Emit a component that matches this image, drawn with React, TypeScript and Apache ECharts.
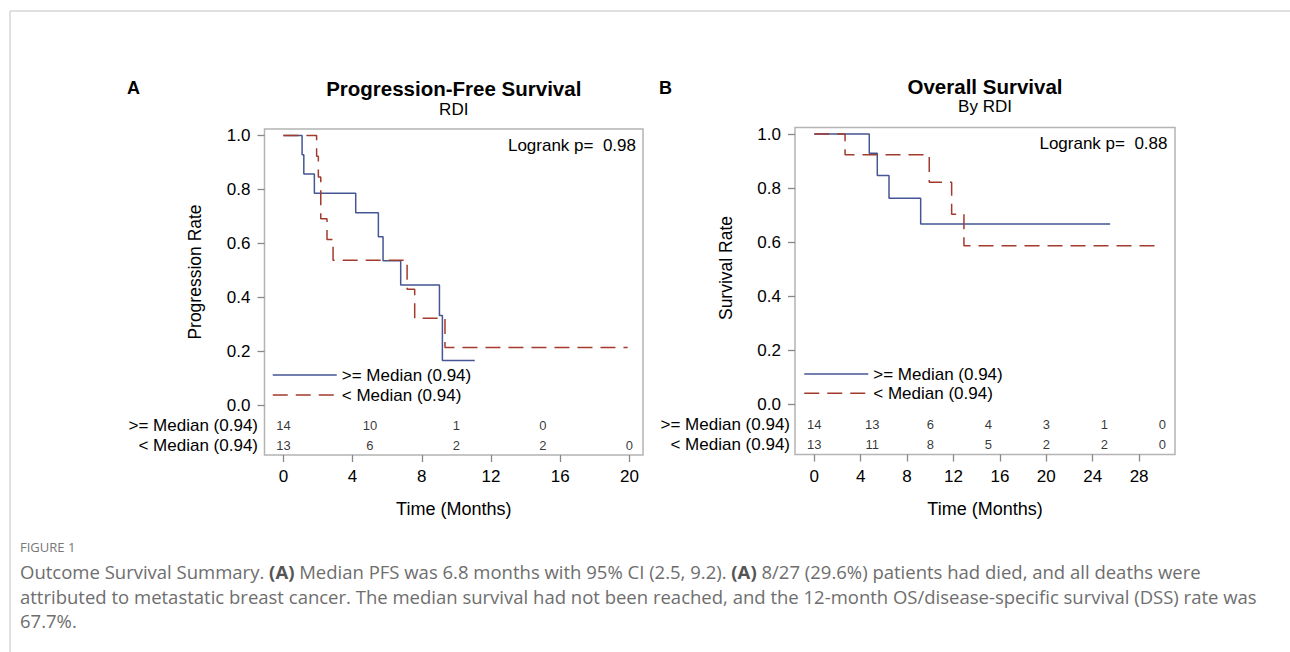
import React, { useEffect, useRef } from "react";
import * as echarts from "echarts";

// ---------------- DATA ----------------
const groupNames = [">= Median (0.94)", "< Median (0.94)"];

// Panel A: Progression-free survival (Kaplan-Meier steps)
const pfsHighTime = [0, 1.08, 1.18, 1.79, 4.18, 5.49, 5.76, 6.78, 9.02, 9.19, 11.06];
const pfsHighRate = [1.0, 0.929, 0.857, 0.786, 0.714, 0.625, 0.536, 0.446, 0.333, 0.167, 0.167];
const pfsLowTime = [0, 1.92, 2.02, 2.16, 2.52, 2.87, 7.15, 7.59, 9.34, 19.9];
const pfsLowRate = [1.0, 0.923, 0.846, 0.692, 0.615, 0.538, 0.431, 0.323, 0.215, 0.215];

// Panel B: Overall survival
const osHighTime = [0, 4.74, 5.43, 6.44, 9.17, 25.5];
const osHighRate = [1.0, 0.929, 0.846, 0.762, 0.667, 0.667];
const osLowTime = [0, 2.65, 9.91, 11.84, 12.9, 29.6];
const osLowRate = [1.0, 0.923, 0.821, 0.703, 0.586, 0.586];

// Numbers at risk
const pfsRiskTimes = [0, 5, 10, 15, 20];
const pfsRiskHigh = [14, 10, 1, 0, null];
const pfsRiskLow = [13, 6, 2, 2, 0];
const osRiskTimes = [0, 5, 10, 15, 20, 25, 30];
const osRiskHigh = [14, 13, 6, 4, 3, 1, 0];
const osRiskLow = [13, 11, 8, 5, 2, 2, 0];

// Ticks
const yTicks = [0, 0.2, 0.4, 0.6, 0.8, 1.0];
const pfsXTicks = [0, 4, 8, 12, 16, 20];
const osXTicks = [0, 4, 8, 12, 16, 20, 24, 28];

// Texts
const pfsTitle = "Progression-Free Survival";
const pfsSubtitle = "RDI";
const osTitle = "Overall Survival";
const osSubtitle = "By RDI";
const pfsLogrank = "Logrank p=  0.98";
const osLogrank = "Logrank p=  0.88";
const captionHead = "FIGURE 1";
const captionLines = [
  "Outcome Survival Summary. {b|(A)} Median PFS was 6.8 months with 95% CI (2.5, 9.2). {b|(A)} 8/27 (29.6%) patients had died, and all deaths were",
  "attributed to metastatic breast cancer. The median survival had not been reached, and the 12-month OS/disease-specific survival (DSS) rate was",
  "67.7%.",
];

// ---------------- LAYOUT / STYLE ----------------
const W = 1290;
const H = 652;
const FONT = "'Liberation Sans', Arial, Helvetica, sans-serif";
const CAP_FONT = "'Open Sans', Lato, sans-serif";
const CAP_SIZE = 18.5;
const BLUE = "#445694";
const RED = "#A23A2E";
const FRAME = "#b4b4b4";
const TICK = "#888888";

const layouts = [
  { l: 264.5, t: 129, r: 643, b: 455, x0: 283.4, xs: 17.3, y0: 405.5, ys: 270, rows: [425, 445] },
  { l: 795, t: 127.5, r: 1175, b: 454.5, x0: 814.3, xs: 11.6, y0: 404, ys: 270, rows: [424, 444] },
];

function axisRange(L: any) {
  return {
    xMin: (L.l - L.x0) / L.xs,
    xMax: (L.r - L.x0) / L.xs,
    yMin: (L.y0 - L.b) / L.ys,
    yMax: (L.y0 - L.t) / L.ys,
  };
}

function kmSeries(name: string, times: number[], rates: number[], idx: number, color: string, dashed: boolean) {
  return {
    type: "line",
    name,
    xAxisIndex: idx,
    yAxisIndex: idx,
    step: "end",
    symbol: "none",
    showSymbol: false,
    silent: true,
    z: dashed ? 3 : 2,
    data: times.map((t, i) => [t, rates[i]]),
    itemStyle: { color },
    lineStyle: { color, width: 1.5, type: dashed ? [15, 8] : "solid" },
    emphasis: { disabled: true },
  };
}

function riskSeries(times: number[], counts: (number | null)[], idx: number, rowVal: number) {
  const data: any[] = [];
  times.forEach((t, j) => {
    if (counts[j] != null) data.push([t, rowVal, counts[j]]);
  });
  return {
    type: "scatter",
    xAxisIndex: idx,
    yAxisIndex: idx,
    symbol: "circle",
    symbolSize: 1,
    silent: true,
    itemStyle: { color: "rgba(0,0,0,0)" },
    label: {
      show: true,
      position: "inside",
      formatter: (p: any) => String(p.value[2]),
      fontSize: 13,
      color: "#000",
      fontFamily: FONT,
    },
    data,
  };
}

function buildOption() {
  const grids: any[] = [];
  const xAxes: any[] = [];
  const yAxes: any[] = [];
  const xTickSets = [pfsXTicks, osXTicks];
  layouts.forEach((L, i) => {
    const R = axisRange(L);
    grids.push({
      left: L.l,
      top: L.t,
      width: L.r - L.l,
      height: L.b - L.t,
      show: true,
      borderColor: FRAME,
      borderWidth: 1.5,
      backgroundColor: "transparent",
      containLabel: false,
      outerBoundsMode: "none",
    });
    xAxes.push({
      type: "value",
      gridIndex: i,
      position: "bottom",
      min: R.xMin,
      max: R.xMax,
      axisLine: { show: false, onZero: false },
      splitLine: { show: false },
      axisTick: { show: true, inside: false, length: 7, lineStyle: { color: TICK, width: 1.3 }, customValues: xTickSets[i] },
      axisLabel: {
        customValues: xTickSets[i],
        margin: 13,
        fontSize: 17,
        color: "#000",
        fontFamily: FONT,
        formatter: (v: number) => String(Math.round(v)),
      },
      name: "Time (Months)",
      nameLocation: "middle",
      nameGap: 45,
      nameTextStyle: { fontSize: 18, color: "#000", fontFamily: FONT },
    });
    yAxes.push({
      type: "value",
      gridIndex: i,
      position: "left",
      min: R.yMin,
      max: R.yMax,
      axisLine: { show: false, onZero: false },
      splitLine: { show: false },
      axisTick: { show: true, inside: false, length: 7, lineStyle: { color: TICK, width: 1.3 }, customValues: yTicks },
      axisLabel: {
        customValues: yTicks,
        margin: 14,
        fontSize: 17,
        color: "#000",
        fontFamily: FONT,
        formatter: (v: number) => v.toFixed(1),
      },
    });
  });

  const rowVal = (L: any, k: number) => (L.y0 - L.rows[k]) / L.ys;

  const series: any[] = [
    kmSeries(groupNames[0], pfsHighTime, pfsHighRate, 0, BLUE, false),
    kmSeries(groupNames[1], pfsLowTime, pfsLowRate, 0, RED, true),
    kmSeries(groupNames[0], osHighTime, osHighRate, 1, BLUE, false),
    kmSeries(groupNames[1], osLowTime, osLowRate, 1, RED, true),
    riskSeries(pfsRiskTimes, pfsRiskHigh, 0, rowVal(layouts[0], 0)),
    riskSeries(pfsRiskTimes, pfsRiskLow, 0, rowVal(layouts[0], 1)),
    riskSeries(osRiskTimes, osRiskHigh, 1, rowVal(layouts[1], 0)),
    riskSeries(osRiskTimes, osRiskLow, 1, rowVal(layouts[1], 1)),
  ];

  const legendBase = {
    data: groupNames,
    orient: "vertical",
    itemWidth: 64,
    itemHeight: 14,
    padding: 0,
    selectedMode: false,
    textStyle: { fontSize: 17, color: "#000", fontFamily: FONT },
    itemStyle: { color: "rgba(0,0,0,0)", borderWidth: 0, opacity: 0 },
    lineStyle: { width: 1.5 },
  };
  const legends = [
    { ...legendBase, left: 272, top: 366.5, itemGap: 3 },
    { ...legendBase, left: 803.5, top: 365.5, itemGap: 2.3 },
  ];

  const txt = (text: string, x: number, y: number, opts: any = {}) => ({
    type: "text",
    x,
    y,
    silent: true,
    rotation: opts.rotation || 0,
    style: {
      text,
      fontSize: opts.fontSize || 17,
      fontWeight: opts.fontWeight || "normal",
      fontFamily: opts.fontFamily || FONT,
      fill: opts.fill || "#000",
      align: opts.align || "left",
      verticalAlign: "middle",
      rich: opts.rich,
    },
  });

  const capRich = {
    b: { fontWeight: "bold", fontSize: CAP_SIZE, fontFamily: CAP_FONT, fill: "#555" },
  };

  const graphic: any[] = [
    // figure frame lines
    { type: "line", silent: true, shape: { x1: 10, y1: 11, x2: W, y2: 11 }, style: { stroke: "#d6d6d6", lineWidth: 1.5 } },
    { type: "line", silent: true, shape: { x1: 10, y1: 11, x2: 10, y2: H }, style: { stroke: "#d6d6d6", lineWidth: 1.5 } },
    // panel letters and titles
    txt("A", 127, 88, { fontSize: 18, fontWeight: "bold" }),
    txt("B", 659, 88, { fontSize: 18, fontWeight: "bold" }),
    txt(pfsTitle, (layouts[0].l + layouts[0].r) / 2, 88, { fontSize: 20.5, fontWeight: "bold", align: "center" }),
    txt(pfsSubtitle, (layouts[0].l + layouts[0].r) / 2, 109, { fontSize: 17, align: "center" }),
    txt(osTitle, (layouts[1].l + layouts[1].r) / 2, 86, { fontSize: 20.5, fontWeight: "bold", align: "center" }),
    txt(osSubtitle, (layouts[1].l + layouts[1].r) / 2, 106, { fontSize: 17, align: "center" }),
    // logrank
    txt(pfsLogrank, 636, 145, { fontSize: 17, align: "right" }),
    txt(osLogrank, 1167.5, 143.5, { fontSize: 17, align: "right" }),
    // y axis titles
    txt("Progression Rate", 195, 272, { fontSize: 17.5, align: "center", rotation: Math.PI / 2 }),
    txt("Survival Rate", 726, 268, { fontSize: 17.5, align: "center", rotation: Math.PI / 2 }),
    // at-risk row labels
    txt(groupNames[0], 258, layouts[0].rows[0], { fontSize: 17, align: "right" }),
    txt(groupNames[1], 258, layouts[0].rows[1], { fontSize: 17, align: "right" }),
    txt(groupNames[0], 790, layouts[1].rows[0], { fontSize: 17, align: "right" }),
    txt(groupNames[1], 790, layouts[1].rows[1], { fontSize: 17, align: "right" }),
    // caption
    txt(captionHead, 20, 547, { fontSize: 13, fontFamily: CAP_FONT, fill: "#777" }),
    txt(captionLines[0], 20, 571, { fontSize: CAP_SIZE, fontFamily: CAP_FONT, fill: "#6e6e6e", rich: capRich }),
    txt(captionLines[1], 20, 596, { fontSize: CAP_SIZE, fontFamily: CAP_FONT, fill: "#6e6e6e", rich: capRich }),
    txt(captionLines[2], 20, 620, { fontSize: CAP_SIZE, fontFamily: CAP_FONT, fill: "#6e6e6e", rich: capRich }),
  ];

  return {
    animation: false,
    backgroundColor: "#fff",
    grid: grids,
    xAxis: xAxes,
    yAxis: yAxes,
    legend: legends,
    series,
    graphic,
  };
}

export default function App() {
  const ref = useRef<HTMLDivElement>(null);
  useEffect(() => {
    if (!ref.current) return;
    const chart = echarts.init(ref.current, null, { renderer: "svg", width: W, height: H });
    chart.setOption(buildOption() as any);
    return () => chart.dispose();
  }, []);
  return (
    <div
      ref={ref}
      style={{ position: "absolute", left: 0, top: 0, width: W, height: H, background: "#fff" }}
    />
  );
}
